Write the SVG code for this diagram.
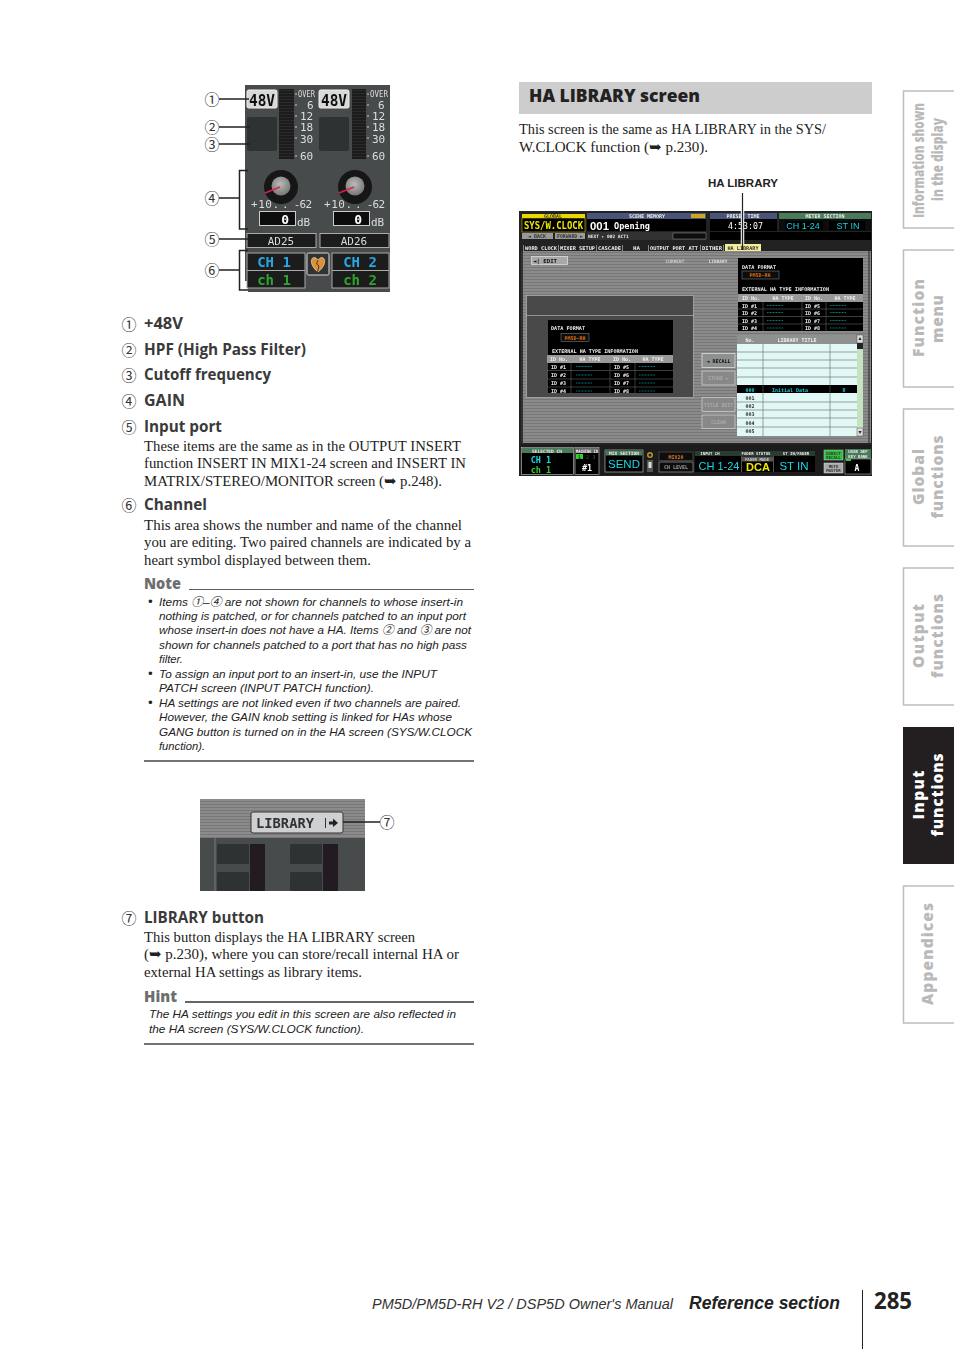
<svg xmlns="http://www.w3.org/2000/svg" width="954" height="1351" viewBox="0 0 954 1351">
<style>
.h{font:700 15.500px "Open Sans","Noto Sans",sans-serif;fill:#3a3a3a}
.b{font:15px "Liberation Serif",serif;fill:#222}
.i{font:italic 11.8px "Liberation Sans","Noto Sans CJK JP",sans-serif;fill:#222}
.c{font:15px "Noto Sans CJK JP",sans-serif;fill:#333;text-anchor:middle}
.sub{font:800 15px "Open Sans",sans-serif;fill:#6e6e6e}
.tab{font:800 15.5px "Open Sans",sans-serif;fill:#b9b9b9;text-anchor:middle}
.m{font:11px "DejaVu Sans Mono",monospace;fill:#ddd}
.p{font:700 5px "DejaVu Sans Mono",monospace;fill:#eee}
.pc{font:700 5px "DejaVu Sans Mono",monospace;fill:#eee;text-anchor:middle}
.pd{font:700 5px "DejaVu Sans Mono",monospace;fill:#333;text-anchor:middle}
.big{font:11.5px "Liberation Sans",sans-serif;text-anchor:middle}
.ln{stroke:#222;stroke-width:1.5;fill:none}
.ct{fill:none;stroke:#bdbdbd;stroke-width:1.5}
.btn{fill:#8e9090;stroke:#ddd;stroke-width:.8}
.gb{fill:#888;stroke:#ccc;stroke-width:.8}
.rw{stroke:#666;stroke-width:.6}
.cy{stroke:#1aa;stroke-width:.7;stroke-dasharray:1 .5}
</style>
<defs>
<pattern id="st" width="3" height="3" patternUnits="userSpaceOnUse"><rect width="3" height="3" fill="#8b8b8b"/><rect width="3" height="1" fill="#777"/></pattern>
<pattern id="seg" width="4" height="3" patternUnits="userSpaceOnUse"><rect width="4" height="3" fill="#1d1d1d"/><rect width="4" height=".6" fill="#333"/></pattern>
<filter id="soft" x="0" y="0" width="1" height="1"><feGaussianBlur stdDeviation="0.3"/></filter>
<radialGradient id="kn" cx=".45" cy=".4" r=".6"><stop offset="0" stop-color="#bbb"/><stop offset="1" stop-color="#777"/></radialGradient>
</defs>
<rect width="954" height="1351" fill="#fff"/>

<g id="sidetabs">
<path class="ct" d="M954 91H903.5V228H954M954 250H903.5V387H954M954 409H903.5V546H954M954 568H903.5V705H954M954 886H903.5V1023H954"/>
<rect x="903" y="727" width="51" height="137" fill="#231f20"/>
<text class="tab" transform="translate(924,160.500) rotate(-90)" textLength="115" lengthAdjust="spacingAndGlyphs">Information shown</text>
<text class="tab" transform="translate(943,159.500) rotate(-90)" textLength="83" lengthAdjust="spacingAndGlyphs">in the display</text>
<text class="tab" transform="translate(924,318) rotate(-90)" textLength="78" lengthAdjust="spacing">Function</text>
<text class="tab" transform="translate(943,319) rotate(-90)" textLength="48" lengthAdjust="spacing">menu</text>
<text class="tab" transform="translate(924,477) rotate(-90)" textLength="56" lengthAdjust="spacing">Global</text>
<text class="tab" transform="translate(943,477) rotate(-90)" textLength="83" lengthAdjust="spacing">functions</text>
<text class="tab" transform="translate(924,636) rotate(-90)" textLength="64" lengthAdjust="spacing">Output</text>
<text class="tab" transform="translate(943,636) rotate(-90)" textLength="84" lengthAdjust="spacing">functions</text>
<text class="tab" style="fill:#fff" transform="translate(924,795) rotate(-90)" textLength="49" lengthAdjust="spacing">Input</text>
<text class="tab" style="fill:#fff" transform="translate(943,795) rotate(-90)" textLength="83" lengthAdjust="spacing">functions</text>
<text class="tab" transform="translate(933,954) rotate(-90)" textLength="102" lengthAdjust="spacing">Appendices</text>
</g>

<g id="channel-panel" filter="url(#soft)">
<path d="M245 85H390V292H248V281H245Z" fill="#474b4c"/>
<g id="ch-a">
<rect x="247" y="90" width="30" height="18" rx="1.5" fill="#d8d8d8" stroke="#eee"/>
<text x="262" y="105.500" style="font:700 15px 'DejaVu Sans Mono',monospace;fill:#111;text-anchor:middle" textLength="26" lengthAdjust="spacingAndGlyphs">48V</text>
<rect x="279" y="89" width="15" height="70" fill="url(#seg)"/>
<rect x="247" y="117" width="30" height="34" rx="2" fill="#2f3233"/>
<circle cx="281" cy="187" r="17" fill="#151515"/><circle cx="281" cy="186" r="9.500" fill="url(#kn)"/>
<path d="M265 193L280 187" stroke="#e0204a" stroke-width="1.500"/>
<rect x="259.500" y="211.500" width="36" height="14" fill="#111" stroke="#ccc"/>
<text x="289" y="224" style="font:700 13px 'DejaVu Sans Mono',monospace;fill:#fff;text-anchor:end">0</text>
<text class="m" x="297" y="226">dB</text>
<text class="m" x="251" y="208" textLength="28">+10.</text>
<text class="m" x="282" y="208" textLength="30">. -62</text>
<rect x="247" y="233.500" width="69" height="14" fill="#1a1a1a" stroke="#aaa"/>
<text class="m" x="281" y="245" text-anchor="middle">AD25</text>
<rect x="247" y="253" width="58" height="35" fill="#1d1d1d" stroke="#aaa"/>
<path d="M247 270.500H305" stroke="#aaa"/>
<text x="274" y="267" style="font:700 14px 'DejaVu Sans Mono',monospace;fill:#2aa6e6" text-anchor="middle">CH 1</text>
<text x="274" y="285" style="font:700 14px 'DejaVu Sans Mono',monospace;fill:#2ea52e" text-anchor="middle">ch 1</text>
</g>
<g id="ch-b">
<rect x="319" y="90" width="30" height="18" rx="1.5" fill="#d8d8d8" stroke="#eee"/>
<text x="334" y="105.500" style="font:700 15px 'DejaVu Sans Mono',monospace;fill:#111;text-anchor:middle" textLength="26" lengthAdjust="spacingAndGlyphs">48V</text>
<rect x="352" y="89" width="14" height="70" fill="url(#seg)"/>
<rect x="319" y="117" width="30" height="34" rx="2" fill="#2f3233"/>
<circle cx="355" cy="187" r="17" fill="#151515"/><circle cx="355" cy="186" r="9.500" fill="url(#kn)"/>
<path d="M339 193L354 187" stroke="#e0204a" stroke-width="1.500"/>
<rect x="333.500" y="211.500" width="36" height="14" fill="#111" stroke="#ccc"/>
<text x="362" y="224" style="font:700 13px 'DejaVu Sans Mono',monospace;fill:#fff;text-anchor:end">0</text>
<text class="m" x="371" y="226">dB</text>
<text class="m" x="324" y="208" textLength="28">+10.</text>
<text class="m" x="355" y="208" textLength="30">. -62</text>
<rect x="320" y="233.500" width="69" height="14" fill="#1a1a1a" stroke="#aaa"/>
<text class="m" x="354" y="245" text-anchor="middle">AD26</text>
<rect x="332" y="253" width="57" height="35" fill="#1d1d1d" stroke="#aaa"/>
<path d="M332 270.500H389" stroke="#aaa"/>
<text x="360" y="267" style="font:700 14px 'DejaVu Sans Mono',monospace;fill:#2aa6e6" text-anchor="middle">CH 2</text>
<text x="360" y="285" style="font:700 14px 'DejaVu Sans Mono',monospace;fill:#2ea52e" text-anchor="middle">ch 2</text>
</g>
<g id="meter-scale" style="font:11px 'DejaVu Sans Mono',monospace;fill:#ddd">
<text x="298" y="97" textLength="17" lengthAdjust="spacingAndGlyphs" style="font-size:9px">OVER</text>
<text x="307" y="109">6</text><text x="300" y="120">12</text><text x="300" y="131">18</text><text x="300" y="143">30</text><text x="300" y="160">60</text>
<text x="370" y="97" textLength="18" lengthAdjust="spacingAndGlyphs" style="font-size:9px">OVER</text>
<text x="378" y="109">6</text><text x="372" y="120">12</text><text x="372" y="131">18</text><text x="372" y="143">30</text><text x="372" y="160">60</text>
<path d="M295 94H297M295 105H297M295 116H297M295 127H297M295 138H297M295 156H297M367 94H369M367 105H369M367 116H369M367 127H369M367 138H369M367 156H369" stroke="#ccc" stroke-width="1"/>
</g>
<g id="heart-button">
<rect x="307" y="253" width="22" height="22" rx="1.500" fill="#333" stroke="#ddd"/>
<path d="M318 272C310 266 310 258 314 257.500C316 257.500 317 259 318 260C319 259 320 257.500 322 257.500C326 258 326 266 318 272Z" fill="#e09030" stroke="#eee" stroke-width=".6"/>
<path d="M318 260L316.500 264L319 266L317.500 272" stroke="#222" fill="none" stroke-width=".8"/>
</g>
</g>

<g id="callouts">
<text class="c" x="212" y="104.500">①</text><text class="c" x="212" y="132.500">②</text><text class="c" x="212" y="149.500">③</text><text class="c" x="212" y="203.500">④</text><text class="c" x="212" y="244.500">⑤</text><text class="c" x="212" y="275.500">⑥</text><text class="c" x="387" y="827.500">⑦</text>
</g>

<g id="left-text">
<text class="c" x="129" y="329.500">①</text><text class="h" x="144" y="329" textLength="39" lengthAdjust="spacingAndGlyphs">+48V</text>
<text class="c" x="129" y="355.500">②</text><text class="h" x="144" y="355" textLength="162" lengthAdjust="spacingAndGlyphs">HPF (High Pass Filter)</text>
<text class="c" x="129" y="380.500">③</text><text class="h" x="144" y="380" textLength="127" lengthAdjust="spacingAndGlyphs">Cutoff frequency</text>
<text class="c" x="129" y="406.500">④</text><text class="h" x="144" y="406" textLength="41" lengthAdjust="spacingAndGlyphs">GAIN</text>
<text class="c" x="129" y="432.500">⑤</text><text class="h" x="144" y="432" textLength="78" lengthAdjust="spacingAndGlyphs">Input port</text>
<text class="b" x="144" y="450.500" textLength="317" lengthAdjust="spacingAndGlyphs">These items are the same as in the OUTPUT INSERT</text>
<text class="b" x="144" y="468" textLength="322" lengthAdjust="spacingAndGlyphs">function INSERT IN MIX1-24 screen and INSERT IN</text>
<text class="b" x="144" y="486" textLength="298" lengthAdjust="spacingAndGlyphs">MATRIX/STEREO/MONITOR screen (<tspan font-family="DejaVu Sans">➥</tspan> p.248).</text>
<text class="c" x="129" y="510.500">⑥</text><text class="h" x="144" y="510" textLength="63" lengthAdjust="spacingAndGlyphs">Channel</text>
<text class="b" x="144" y="529.500" textLength="318" lengthAdjust="spacingAndGlyphs">This area shows the number and name of the channel</text>
<text class="b" x="144" y="546.500" textLength="327" lengthAdjust="spacingAndGlyphs">you are editing. Two paired channels are indicated by a</text>
<text class="b" x="144" y="564.500" textLength="227" lengthAdjust="spacingAndGlyphs">heart symbol displayed between them.</text>

<text class="sub" x="144" y="589" textLength="37" lengthAdjust="spacingAndGlyphs">Note</text>
<path d="M189 589.500H474" stroke="#333" stroke-width=".8"/>
<g><text class="i" style="font-size:13px" x="148" y="606">•</text><text class="i" style="font-size:13px" x="148" y="678">•</text><text class="i" style="font-size:13px" x="148" y="707">•</text></g>
<text class="i" x="159" y="606" textLength="304" lengthAdjust="spacingAndGlyphs">Items ①–④ are not shown for channels to whose insert-in</text>
<text class="i" x="159" y="620" textLength="307" lengthAdjust="spacingAndGlyphs">nothing is patched, or for channels patched to an input port</text>
<text class="i" x="159" y="634" textLength="312" lengthAdjust="spacingAndGlyphs">whose insert-in does not have a HA. Items ② and ③ are not</text>
<text class="i" x="159" y="649" textLength="308" lengthAdjust="spacingAndGlyphs">shown for channels patched to a port that has no high pass</text>
<text class="i" x="159" y="663" textLength="24" lengthAdjust="spacingAndGlyphs">filter.</text>
<text class="i" x="159" y="678" textLength="278" lengthAdjust="spacingAndGlyphs">To assign an input port to an insert-in, use the INPUT</text>
<text class="i" x="159" y="692" textLength="215" lengthAdjust="spacingAndGlyphs">PATCH screen (INPUT PATCH function).</text>
<text class="i" x="159" y="707" textLength="302" lengthAdjust="spacingAndGlyphs">HA settings are not linked even if two channels are paired.</text>
<text class="i" x="159" y="721" textLength="293" lengthAdjust="spacingAndGlyphs">However, the GAIN knob setting is linked for HAs whose</text>
<text class="i" x="159" y="736" textLength="313" lengthAdjust="spacingAndGlyphs">GANG button is turned on in the HA screen (SYS/W.CLOCK</text>
<text class="i" x="159" y="750" textLength="46" lengthAdjust="spacingAndGlyphs">function).</text>
<path d="M144 761H474" stroke="#444" stroke-width="1.600"/>

<text class="c" x="129" y="923.500">⑦</text><text class="h" x="144" y="923" textLength="120" lengthAdjust="spacingAndGlyphs">LIBRARY button</text>
<text class="b" x="144" y="942" textLength="271" lengthAdjust="spacingAndGlyphs">This button displays the HA LIBRARY screen</text>
<text class="b" x="144" y="959" textLength="315" lengthAdjust="spacingAndGlyphs">(<tspan font-family="DejaVu Sans">➥</tspan> p.230), where you can store/recall internal HA or</text>
<text class="b" x="144" y="977" textLength="218" lengthAdjust="spacingAndGlyphs">external HA settings as library items.</text>
<text class="sub" x="144" y="1002" textLength="33" lengthAdjust="spacingAndGlyphs">Hint</text>
<path d="M185 1002H474" stroke="#333" stroke-width="1.400"/>
<text class="i" x="149" y="1018" textLength="307" lengthAdjust="spacingAndGlyphs">The HA settings you edit in this screen are also reflected in</text>
<text class="i" x="149" y="1033" textLength="215" lengthAdjust="spacingAndGlyphs">the HA screen (SYS/W.CLOCK function).</text>
<path d="M144 1044H474" stroke="#444" stroke-width="1.600"/>
</g>

<g id="library-crop" filter="url(#soft)">
<rect x="200" y="799" width="165" height="39" fill="url(#st)"/>
<rect x="200" y="838" width="165" height="53" fill="#474b4c"/>
<path d="M215 838V891" stroke="#8a8a8a" stroke-width=".8"/>
<rect x="217" y="844" width="32" height="20" rx="1.500" fill="#2f3233"/><rect x="217" y="872" width="32" height="19" rx="1.500" fill="#2f3233"/>
<rect x="250" y="844" width="15" height="47" fill="#231f20"/>
<rect x="290" y="844" width="32" height="20" rx="1.500" fill="#2f3233"/><rect x="290" y="872" width="32" height="19" rx="1.500" fill="#2f3233"/>
<rect x="323" y="844" width="15" height="47" fill="#231f20"/>
<rect x="251" y="812" width="92" height="21" rx="2" fill="#cfd0d2" stroke="#333" stroke-width="1"/>
<text x="256" y="828" style="font:700 14px 'DejaVu Sans Mono',monospace;fill:#333" textLength="58" lengthAdjust="spacingAndGlyphs">LIBRARY</text>
<path d="M325.500 818V828" stroke="#333"/><path d="M329 821.500H333V818.500L338 823L333 827V824.500H329Z" fill="#222"/>
</g>

<g id="ha-library-head">
<rect x="519" y="82" width="353" height="32" fill="#cdcdcd"/>
<text x="529" y="102" style="font:800 17px 'Open Sans',sans-serif;fill:#222" textLength="171" lengthAdjust="spacingAndGlyphs">HA LIBRARY screen</text>
<text class="b" x="519" y="134" textLength="307" lengthAdjust="spacingAndGlyphs">This screen is the same as HA LIBRARY in the SYS/</text>
<text class="b" x="519" y="152" textLength="189" lengthAdjust="spacingAndGlyphs">W.CLOCK function (<tspan font-family="DejaVu Sans">➥</tspan> p.230).</text>
<text x="743" y="187" style="font:700 11.500px 'Liberation Sans',sans-serif;fill:#222;text-anchor:middle">HA LIBRARY</text>
</g>

<g id="screen" filter="url(#soft)">
<rect x="519" y="211" width="353" height="265" fill="#222"/>
<rect x="522" y="214" width="63" height="4" fill="#e8d800"/><text class="pd" x="553" y="218">GLOBAL</text>
<rect x="522" y="218" width="63" height="14" fill="#000" stroke="#e8d800" stroke-width=".5"/>
<text x="553.500" y="229" style="font:700 10px 'DejaVu Sans Mono',monospace;fill:#f2e800;text-anchor:middle" textLength="59" lengthAdjust="spacingAndGlyphs">SYS/W.CLOCK</text>
<rect x="522" y="233" width="31" height="6" fill="#999"/><text class="pd" x="537" y="238">◄ BACK</text>
<rect x="555" y="233" width="30" height="6" fill="#999"/><text class="pd" x="570" y="238" textLength="26" lengthAdjust="spacingAndGlyphs">FORWARD ►</text>
<rect x="587" y="213" width="119" height="6" fill="#4a5578"/><text class="pc" x="647" y="218">SCENE MEMORY</text>
<rect x="691" y="214" width="14" height="4" fill="#c9a820"/>
<rect x="587" y="219" width="119" height="12" fill="#000"/>
<text x="590" y="230" style="font:700 11.500px 'Liberation Sans',sans-serif;fill:#fff" textLength="19" lengthAdjust="spacingAndGlyphs">001</text>
<text x="614" y="229" style="font:700 8px 'DejaVu Sans Mono',monospace;fill:#fff" textLength="36" lengthAdjust="spacingAndGlyphs">Opening</text>
<rect x="587" y="232" width="119" height="8" fill="#333"/>
<text class="p" x="588" y="238" style="font-size:4.500px">NEXT   ▸ 002 ACT1</text>
<rect x="673" y="233" width="33" height="6" fill="#111" stroke="#aaa" stroke-width=".4"/>
<rect x="710" y="213" width="67" height="6" fill="#4a5578"/><text class="pc" x="743" y="218">PRESET TIME</text>
<rect x="710" y="219" width="67" height="12" fill="#000"/>
<text x="745.500" y="229" style="font:8.500px 'DejaVu Sans Mono',monospace;fill:#fff;text-anchor:middle" textLength="35" lengthAdjust="spacingAndGlyphs">4:53:07</text>
<rect x="779" y="213" width="92" height="6" fill="#4a7a5a"/><text class="pc" x="825" y="218">METER SECTION</text>
<rect x="779" y="219" width="92" height="12" fill="#111"/>
<rect x="785" y="221" width="38" height="9" fill="#000"/><text x="803" y="229" style="font:9px 'Liberation Sans',sans-serif;fill:#18d0e0;text-anchor:middle">CH 1-24</text>
<rect x="829" y="221" width="36" height="9" fill="#000"/><text x="848" y="229" style="font:9px 'Liberation Sans',sans-serif;fill:#18d0e0;text-anchor:middle">ST IN</text>
<rect x="710" y="232" width="161" height="8" fill="#000"/>
<rect x="521" y="243" width="350" height="8" fill="#222"/>
<path d="M523.500 245V251M558.500 245V251M596.500 245V251M622.500 245V251M648.500 245V251M700.500 245V251M723.500 245V251" stroke="#ccc" stroke-width=".6"/>
<text class="p" x="525" y="250" textLength="32" lengthAdjust="spacingAndGlyphs">WORD CLOCK</text>
<text class="p" x="560" y="250" textLength="35" lengthAdjust="spacingAndGlyphs">MIXER SETUP</text>
<text class="p" x="598" y="250" textLength="23" lengthAdjust="spacingAndGlyphs">CASCADE</text>
<text class="p" x="633" y="250" textLength="7" lengthAdjust="spacingAndGlyphs">HA</text>
<text class="p" x="650" y="250" textLength="48" lengthAdjust="spacingAndGlyphs">OUTPUT PORT ATT</text>
<text class="p" x="702" y="250" textLength="20" lengthAdjust="spacingAndGlyphs">DITHER</text>
<rect x="725" y="244" width="36" height="7" fill="#f4ee9c"/><text class="pd" x="743" y="250" textLength="31" lengthAdjust="spacingAndGlyphs">HA LIBRARY</text>
<rect x="521" y="251" width="350" height="192" fill="url(#st)"/>
<rect x="521" y="251" width="2" height="192" fill="#333"/><rect x="868" y="251" width="2" height="192" fill="#555"/>
<rect x="531.500" y="256.500" width="36" height="8" fill="#a8a8a8" stroke="#ddd" stroke-width=".8"/><text class="pd" x="533" y="263" style="font-size:5.500px;text-anchor:start;fill:#111" textLength="24" lengthAdjust="spacingAndGlyphs">◄| EDIT</text>
<text class="pc" x="675" y="263" style="fill:#ccc;font-size:4.500px">CURRENT</text>
<text class="pc" x="718" y="263" style="fill:#ddd;font-size:4.500px">LIBRARY</text>
<rect x="526.500" y="295.500" width="167" height="102" fill="#484848" stroke="#b5b5b5" stroke-width=".7"/>
<path d="M526 315.500H694" stroke="#b5b5b5" stroke-width=".7"/>
<rect x="548" y="320" width="125" height="73" fill="#000"/>
<text class="p" x="551" y="330" textLength="34" lengthAdjust="spacingAndGlyphs">DATA FORMAT</text>
<rect x="561" y="333.500" width="28" height="8" fill="#111" stroke="#888" stroke-width=".5"/><text class="pc" x="575" y="340" style="fill:#e06a10">PM5D-RH</text>
<text class="p" x="552" y="352.500" textLength="86" lengthAdjust="spacingAndGlyphs">EXTERNAL HA TYPE INFORMATION</text>
<rect x="547" y="355" width="126" height="8" fill="#999"/>
<text class="pc" x="559" y="361">ID No.</text><text class="pc" x="590" y="361">HA TYPE</text><text class="pc" x="622" y="361">ID No.</text><text class="pc" x="653" y="361">HA TYPE</text>
<path class="rw" d="M547 370.500H673M547 379H673M547 387H673M571 363V393M610 363V393M635 363V393"/>
<text class="p" x="551" y="368.500">ID #1</text><text class="p" x="551" y="377">ID #2</text><text class="p" x="551" y="385">ID #3</text><text class="p" x="551" y="392.500">ID #4</text>
<text class="p" x="614" y="368.500">ID #5</text><text class="p" x="614" y="377">ID #6</text><text class="p" x="614" y="385">ID #7</text><text class="p" x="614" y="392.500">ID #8</text>
<path class="cy" d="M576 366.500H592M576 375H592M576 383H592M576 391H592M639 366.500H655M639 375H655M639 383H655M639 391H655"/>
<rect x="738" y="258" width="125" height="73" fill="#000"/>
<text class="p" x="742" y="268.500" textLength="34" lengthAdjust="spacingAndGlyphs">DATA FORMAT</text>
<rect x="742" y="271" width="37" height="8" fill="#111" stroke="#888" stroke-width=".5"/><text class="pc" x="760" y="277" style="fill:#e06a10">PM5D-RH</text>
<text class="p" x="742" y="290.500" textLength="87" lengthAdjust="spacingAndGlyphs">EXTERNAL HA TYPE INFORMATION</text>
<rect x="738" y="294" width="125" height="8" fill="#999"/>
<text class="pc" x="751" y="300">ID No.</text><text class="pc" x="783" y="300">HA TYPE</text><text class="pc" x="814" y="300">ID No.</text><text class="pc" x="845" y="300">HA TYPE</text>
<path class="rw" d="M738 309H863M738 316.500H863M738 324H863M763 302V331M802 302V331M826 302V331"/>
<text class="p" x="742" y="307.500">ID #1</text><text class="p" x="742" y="314.500">ID #2</text><text class="p" x="742" y="322.500">ID #3</text><text class="p" x="742" y="330">ID #4</text>
<text class="p" x="805" y="307.500">ID #5</text><text class="p" x="805" y="314.500">ID #6</text><text class="p" x="805" y="322.500">ID #7</text><text class="p" x="805" y="330">ID #8</text>
<path class="cy" d="M767 305.500H783M767 312.500H783M767 320.500H783M767 328H783M830 305.500H846M830 312.500H846M830 320.500H846M830 328H846"/>
<rect x="737" y="335" width="120" height="101" fill="#e2f8f6"/>
<rect x="737" y="335" width="120" height="9" fill="#8f9190"/>
<text class="pc" x="750" y="342">No.</text><text class="pc" x="797" y="342">LIBRARY TITLE</text>
<rect x="737" y="385" width="120" height="8" fill="#000"/>
<path d="M737 352H857M737 360H857M737 368H857M737 377H857M737 402H857M737 410H857M737 418H857M737 427H857M763 344V436M830 344V436" stroke="#666" stroke-width=".6"/>
<text class="pc" x="750" y="391.500" style="fill:#18d0e0">000</text><text class="pc" x="790" y="391.500" style="fill:#18d0e0">Initial Data</text><text class="pc" x="844" y="391.500" style="fill:#18d0e0">R</text>
<text class="pd" x="750" y="399.500">001</text><text class="pd" x="750" y="408">002</text><text class="pd" x="750" y="416">003</text><text class="pd" x="750" y="424.500">004</text><text class="pd" x="750" y="433">005</text>
<rect x="857" y="335" width="6" height="101" fill="#c5e3c0"/>
<rect x="857" y="335" width="6" height="8" fill="#ddd" stroke="#333" stroke-width=".4"/><rect x="857" y="343" width="6" height="6" fill="#222"/><rect x="857" y="428" width="6" height="8" fill="#ddd" stroke="#333" stroke-width=".4"/>
<path d="M860 337L858.500 340H861.500ZM860 434L858.500 431H861.500Z" fill="#222"/>
<rect class="btn" x="702" y="353.500" width="33" height="14"/><text class="pc" x="718.500" y="362.500" style="fill:#111">◄ RECALL</text>
<rect class="gb" x="702" y="371" width="33" height="14"/><text class="pc" x="718.500" y="380" style="fill:#aaa">STORE ►</text>
<rect class="gb" x="702" y="397.500" width="33" height="14"/><text class="pc" x="718.500" y="406.500" style="fill:#aaa" textLength="29" lengthAdjust="spacingAndGlyphs">TITLE EDIT</text>
<rect class="gb" x="702" y="415" width="33" height="13.500"/><text class="pc" x="718.500" y="424" style="fill:#aaa">CLEAR</text>
<rect x="521" y="445" width="350" height="30" fill="#1c1c1c"/>
<rect x="521.500" y="447.500" width="52" height="27" fill="#000" stroke="#ccc" stroke-width=".6"/>
<rect x="522" y="448" width="51" height="5" fill="#4a7a5a"/><text class="pc" x="547" y="452.500" style="font-size:4.500px">SELECTED CH</text>
<text x="541" y="463" style="font:700 8.500px 'DejaVu Sans Mono',monospace;fill:#18d8e8;text-anchor:middle">CH 1</text>
<text x="541" y="473" style="font:700 8.500px 'DejaVu Sans Mono',monospace;fill:#30d030;text-anchor:middle">ch 1</text>
<rect x="575" y="447.500" width="24" height="27" fill="#000" stroke="#ccc" stroke-width=".6"/>
<rect x="575" y="448" width="24" height="5" fill="#666"/><text class="pc" x="587" y="452.500" style="font-size:4.500px" textLength="22" lengthAdjust="spacingAndGlyphs">MACHINE ID</text>
<rect x="576" y="454" width="7" height="5" fill="#30d030"/><text class="pc" x="587.500" y="458.500" style="fill:#444">2</text><text class="pc" x="594" y="458.500" style="fill:#444">3</text><text class="pd" x="579.500" y="458.500">1</text>
<text x="587" y="470.500" style="font:700 8.500px 'DejaVu Sans Mono',monospace;fill:#fff;text-anchor:middle">#1</text>
<rect x="605" y="450" width="38" height="22" fill="#000" stroke="#ccc" stroke-width=".6"/>
<rect x="605.500" y="450.500" width="37" height="5" fill="#4a7a5a"/><text class="pc" x="624" y="454.800" style="font-size:4.500px">MIX SECTION</text>
<text class="big" x="624" y="468" style="fill:#18d8e8">SEND</text>
<circle cx="650" cy="455" r="3" fill="#c0902a"/><circle cx="650" cy="455" r="1.500" fill="#224"/>
<rect x="647" y="460" width="6" height="12" fill="#555"/><rect x="648.500" y="462" width="3" height="6" fill="#ddd"/>
<rect x="659" y="452" width="34" height="8.500" fill="#111" stroke="#666" stroke-width=".5"/><text class="pc" x="676" y="458.500" style="fill:#e0702a">MIX20</text>
<rect x="659" y="462" width="34" height="10" fill="#111" stroke="#aaa" stroke-width=".6"/><text class="pc" x="676" y="469" style="fill:#999">CH LEVEL</text>
<rect x="695" y="451" width="120" height="21" fill="#000"/>
<rect x="695" y="451" width="120" height="5" fill="#2b3a33"/>
<text class="pc" x="710" y="455" style="font-size:4px">INPUT CH</text><text class="pc" x="756" y="455" style="font-size:4px">FADER STATUS</text><text class="pc" x="796" y="455" style="font-size:4px">ST IN/FADER</text>
<text class="big" x="719" y="469.500" style="fill:#18d8e8" textLength="41" lengthAdjust="spacingAndGlyphs">CH 1-24</text>
<rect x="742" y="456.500" width="31" height="5" fill="#555"/><text class="pc" x="757" y="460.800" style="font-size:4px;fill:#ccc">FADER MODE</text>
<text x="758" y="471" style="font:700 11px 'Liberation Sans',sans-serif;fill:#f2e800;text-anchor:middle">DCA</text>
<path d="M741.500 456V472M773.500 456V472" stroke="#888" stroke-width=".6"/>
<text class="big" x="794" y="469.500" style="fill:#18d8e8">ST IN</text>
<rect x="824" y="450" width="19" height="10" fill="#30c040" stroke="#ccc" stroke-width=".5"/><text class="pd" x="833.500" y="454.500" style="font-size:4px">DIRECT</text><text class="pd" x="833.500" y="459" style="font-size:4px">RECALL</text>
<rect x="824" y="463" width="19" height="10" fill="#aaa" stroke="#ddd" stroke-width=".5"/><text class="pc" x="833.500" y="467.500" style="font-size:4px;fill:#333">MUTE</text><text class="pc" x="833.500" y="472" style="font-size:4px;fill:#333">MASTER</text>
<rect x="845" y="449" width="26" height="10" fill="#4a7a5a"/><text class="pc" x="858" y="453" style="font-size:4px">USER DEF</text><text class="pc" x="858" y="458" style="font-size:4px">KEY BANK</text>
<rect x="845" y="459" width="26" height="15" fill="#000" stroke="#ccc" stroke-width=".5"/><rect x="846" y="459" width="5" height="2" fill="#30d030"/>
<text x="857" y="470.500" style="font:700 8px 'DejaVu Sans Mono',monospace;fill:#fff;text-anchor:middle">A</text>
</g>

<g id="connectors">
<path class="ln" d="M219 99H249M219 127H250M219 144H250M219 198H239.500M248 170.500H239.500V229H248M219 239H248M219 270H239.500M248 250.500H239.500V290H248M343 822H380"/>
<path d="M742.500 211V244" stroke="#eee" stroke-width="3.500"/>
<path d="M742.500 193V250" stroke="#222" stroke-width="1.200"/>
</g>

<g id="footer">
<text x="372" y="1309" style="font:italic 15px 'Liberation Sans',sans-serif;fill:#333" textLength="301" lengthAdjust="spacingAndGlyphs">PM5D/PM5D-RH V2 / DSP5D Owner's Manual</text>
<text x="689" y="1309" style="font:italic 700 18px 'Liberation Sans',sans-serif;fill:#222" textLength="151" lengthAdjust="spacingAndGlyphs">Reference section</text>
<path d="M862.500 1290V1349" stroke="#222" stroke-width="1"/>
<text x="874" y="1309" style="font:700 24px 'Open Sans',sans-serif;fill:#222" textLength="38" lengthAdjust="spacingAndGlyphs">285</text>
</g>
</svg>
